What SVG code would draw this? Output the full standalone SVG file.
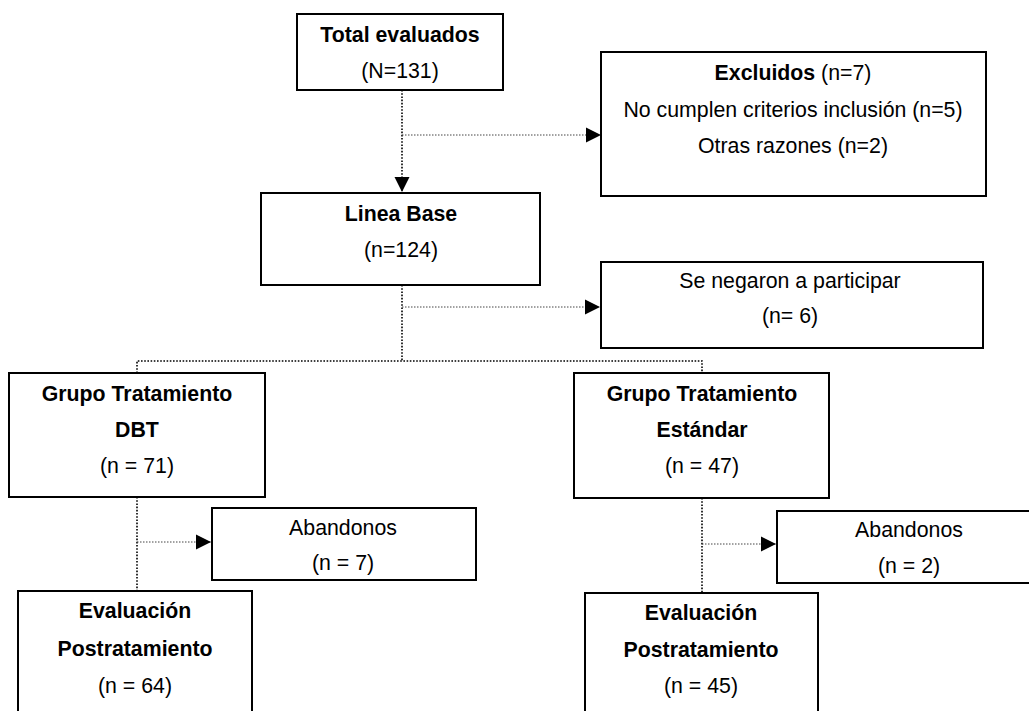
<svg xmlns="http://www.w3.org/2000/svg" width="1029" height="711" viewBox="0 0 1029 711">
<style>
.box{fill:#fff;stroke:#000;stroke-width:2}
text{font-family:"Liberation Sans",Arial,sans-serif;font-size:21.3px;fill:#000;text-anchor:middle}
.b{font-weight:bold}
.c{fill:none;stroke:#000;stroke-width:1.6;stroke-dasharray:1.6 1.6}
.h{fill:none;stroke:#444;stroke-width:1;stroke-dasharray:1.5 1.5}
</style>
<defs>
<marker id="arr" markerUnits="userSpaceOnUse" markerWidth="16" markerHeight="16" viewBox="0 0 16 16" refX="15" refY="8" orient="auto">
<path d="M0,0.5 L15,8 L0,15.5 Z" fill="#000"/>
</marker>
</defs>
<rect width="1029" height="711" fill="#fff"/>
<g id="connectors">
<path class="c" d="M402,90 V192" marker-end="url(#arr)"/>
<path class="h" d="M402,135 H601" marker-end="url(#arr)"/>
<path class="c" d="M402,285 V361"/>
<path class="h" d="M402,307 H600" marker-end="url(#arr)"/>
<path class="c" d="M137,373 V361 H702 V373"/>
<path class="c" d="M137,497 V591"/>
<path class="h" d="M137,542 H211" marker-end="url(#arr)"/>
<path class="c" d="M702,498 V593"/>
<path class="h" d="M702,544 H776" marker-end="url(#arr)"/>
</g>
<g id="total">
<rect class="box" x="297" y="14" width="206" height="76"/>
<text class="b" x="400" y="42">Total evaluados</text>
<text x="400" y="78">(N=131)</text>
</g>
<g id="excluidos">
<rect class="box" x="601" y="52" width="385" height="144"/>
<text x="793" y="80"><tspan class="b">Excluidos</tspan> (n=7)</text>
<text x="793" y="117">No cumplen criterios inclusión (n=5)</text>
<text x="793" y="153">Otras razones (n=2)</text>
</g>
<g id="linea-base">
<rect class="box" x="261" y="193" width="279" height="92"/>
<text class="b" x="401" y="221">Linea Base</text>
<text x="401" y="257">(n=124)</text>
</g>
<g id="se-negaron">
<rect class="box" x="601" y="262" width="382" height="86"/>
<text x="790" y="288">Se negaron a participar</text>
<text x="790" y="323">(n= 6)</text>
</g>
<g id="grupo-dbt">
<rect class="box" x="9" y="373" width="256" height="124"/>
<text class="b" x="137" y="401">Grupo Tratamiento</text>
<text class="b" x="137" y="437">DBT</text>
<text x="137" y="473">(n = 71)</text>
</g>
<g id="grupo-estandar">
<rect class="box" x="574" y="373" width="255" height="125"/>
<text class="b" x="702" y="401">Grupo Tratamiento</text>
<text class="b" x="702" y="437">Estándar</text>
<text x="702" y="473">(n = 47)</text>
</g>
<g id="abandonos-dbt">
<rect class="box" x="212" y="508" width="264" height="72"/>
<text x="343" y="535">Abandonos</text>
<text x="343" y="570">(n = 7)</text>
</g>
<g id="abandonos-estandar">
<rect class="box" x="777" y="511" width="262" height="72"/>
<text x="909" y="537">Abandonos</text>
<text x="909" y="573">(n = 2)</text>
</g>
<g id="post-dbt">
<rect class="box" x="18" y="591" width="234" height="130"/>
<text class="b" x="135" y="618">Evaluación</text>
<text class="b" x="135" y="656">Postratamiento</text>
<text x="135" y="693">(n = 64)</text>
</g>
<g id="post-estandar">
<rect class="box" x="585" y="593" width="233" height="130"/>
<text class="b" x="701" y="620">Evaluación</text>
<text class="b" x="701" y="657">Postratamiento</text>
<text x="701" y="693">(n = 45)</text>
</g>
</svg>
